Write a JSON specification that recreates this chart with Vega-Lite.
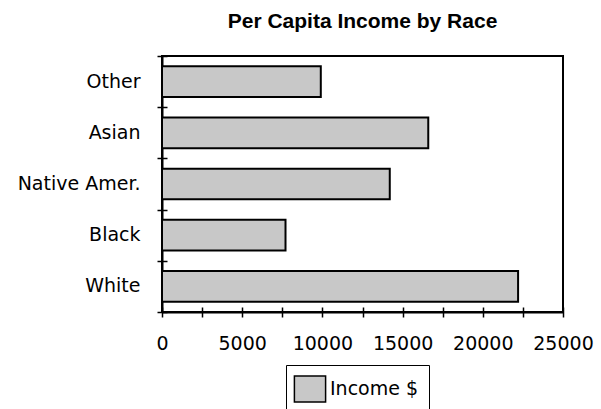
{
  "$schema": "https://vega.github.io/schema/vega-lite/v6.json",
  "width": 401,
  "height": 256,
  "autosize": {"type": "none"},
  "padding": {"left": 162, "top": 56, "right": 38, "bottom": 97},
  "background": "white",
  "title": {
    "text": "Per Capita Income by Race",
    "font": "Liberation Sans",
    "fontSize": 21,
    "fontWeight": "bold",
    "color": "black",
    "anchor": "middle",
    "offset": 23
  },
  "data": {
    "values": [
      {"race": "Other", "income": 9900, "series": "Income $"},
      {"race": "Asian", "income": 16600, "series": "Income $"},
      {"race": "Native Amer.", "income": 14200, "series": "Income $"},
      {"race": "Black", "income": 7700, "series": "Income $"},
      {"race": "White", "income": 22200, "series": "Income $"}
    ]
  },
  "config": {
    "view": {"stroke": "black", "strokeWidth": 2},
    "axis": {
      "labelFont": "DejaVu Sans",
      "labelFontSize": 19,
      "labelColor": "black",
      "domainColor": "black",
      "domainWidth": 2,
      "tickColor": "black",
      "tickWidth": 1.5,
      "grid": false,
      "title": null
    }
  },
  "layer": [
    {
      "mark": {"type": "bar", "stroke": "black", "strokeWidth": 2},
      "encoding": {
        "y": {
          "field": "race",
          "type": "nominal",
          "sort": ["Other", "Asian", "Native Amer.", "Black", "White"],
          "scale": {"paddingInner": 0.4, "paddingOuter": 0.2},
          "axis": {"orient": "left", "ticks": false, "labelPadding": 22, "domain": true}
        },
        "x": {
          "field": "income",
          "type": "quantitative",
          "scale": {"domain": [0, 25000], "nice": false},
          "axis": {
            "orient": "bottom",
            "ticks": false,
            "values": [0, 5000, 10000, 15000, 20000, 25000],
            "format": "d",
            "labelPadding": 22,
            "labelOverlap": false,
            "labelFlush": false,
            "domain": true
          }
        },
        "fill": {
          "field": "series",
          "type": "nominal",
          "scale": {"range": ["#c8c8c8"]},
          "legend": {
            "orient": "none",
            "legendX": 124,
            "legendY": 309,
            "title": null,
            "padding": 10,
            "strokeColor": "black",
            "fillColor": "white",
            "symbolType": "M-1.2,-1L1.2,-1L1.2,1L-1.2,1Z",
            "symbolSize": 676,
            "symbolStrokeColor": "black",
            "symbolStrokeWidth": 1.5,
            "symbolOpacity": 1,
            "labelFont": "DejaVu Sans",
            "labelFontSize": 19,
            "labelColor": "black",
            "labelOffset": 6
          }
        }
      }
    },
    {
      "mark": {"type": "bar", "opacity": 0},
      "encoding": {
        "y": {
          "field": "race",
          "type": "nominal",
          "sort": ["Other", "Asian", "Native Amer.", "Black", "White"],
          "scale": {"paddingInner": 0, "paddingOuter": 0},
          "axis": {"orient": "left", "offset": -5, "tickSize": 10, "tickBand": "extent", "labels": false, "domain": false}
        },
        "x": {
          "field": "income",
          "type": "quantitative",
          "axis": {
            "orient": "bottom",
            "offset": -5,
            "tickSize": 10,
            "values": [0, 2500, 5000, 7500, 10000, 12500, 15000, 17500, 20000, 22500, 25000],
            "labels": false,
            "domain": false
          }
        }
      }
    }
  ],
  "resolve": {"scale": {"y": "independent"}, "axis": {"x": "independent", "y": "independent"}}
}
